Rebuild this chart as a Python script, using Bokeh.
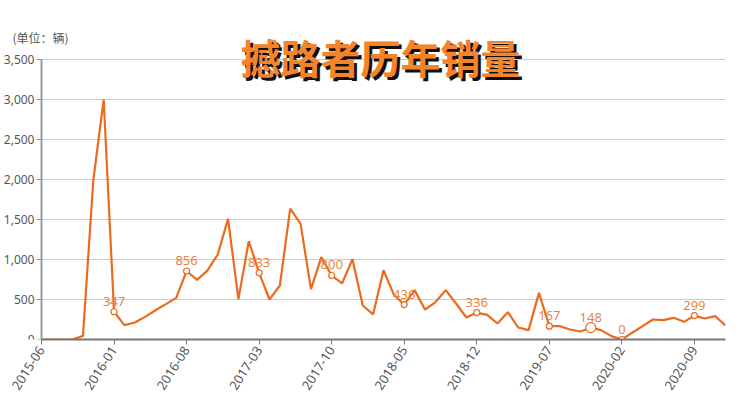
import pandas as pd
from bokeh.core.properties import value
from bokeh.plotting import figure
from bokeh.models import ColumnDataSource, Range1d, FixedTicker, NumeralTickFormatter, Label, LabelSet
from bokeh.embed import file_html
from bokeh.resources import INLINE

# monthly sales, 2015-06 .. 2020-12
months = [p.strftime("%Y-%m") for p in pd.period_range("2015-06", "2020-12", freq="M")]
sales = [0, 0, 0, 0, 45, 1990, 3000, 347, 180, 212, 283, 365, 442, 521, 856, 745,
         860, 1060, 1508, 505, 1228, 833, 500, 675, 1635, 1446, 630, 1030, 800, 700,
         1005, 425, 315, 865, 560, 436, 617, 375, 465, 617, 450, 275, 336, 308, 200,
         342, 150, 117, 583, 167, 167, 125, 100, 148, 117, 42, 0, 85, 167, 250, 242,
         271, 221, 299, 262, 292, 175]
marked = ["2016-01", "2016-08", "2017-03", "2017-10", "2018-05", "2018-12",
          "2019-07", "2019-11", "2020-02", "2020-09"]
highlight = "2019-11"
tick_months = months[::7]
y_ticks = [0, 500, 1000, 1500, 2000, 2500, 3000, 3500]

CJK = "Noto Sans CJK SC"
NUM = "Noto Sans"
LINE = "#EC6A1E"
LABEL_C = "#E8853F"

n = len(months)
idx = list(range(n))
src = ColumnDataSource(data=dict(x=idx, y=sales, m=months))
mk = [months.index(m) for m in marked]
msrc = ColumnDataSource(data=dict(
    x=mk, y=[sales[i] for i in mk], txt=[str(sales[i]) for i in mk],
    r=[10 if months[i] == highlight else 6 for i in mk]))

# frame runs to the top/left canvas edge so title and unit text are not clipped
p = figure(width=748, height=397, output_backend="svg", toolbar_location=None,
           x_range=Range1d(-3.956, n - 1), y_range=Range1d(0, 4237),
           min_border_left=0, min_border_right=23, min_border_top=0, min_border_bottom=58)
p.outline_line_color = None
p.background_fill_color = "white"

# horizontal grid lines between the axes only
p.xgrid.grid_line_color = None
p.ygrid.grid_line_color = None
p.segment(x0=0, x1=n - 1, y0=y_ticks, y1=y_ticks, line_color="#CCCCCC", line_width=1)

p.line("x", "y", source=src, line_color=LINE, line_width=2.2)
p.scatter("x", "y", source=msrc, size="r", marker="circle", fill_color="white",
          line_color=LINE, line_width=1.2)
labels = LabelSet(x="x", y="y", text="txt", source=msrc, text_align="center",
                  text_baseline="bottom", y_offset=6, text_font=value(NUM),
                  text_font_size="13px", text_color=LABEL_C)
p.add_layout(labels)

# y axis pinned at the first month
p.yaxis.fixed_location = 0
p.yaxis.bounds = (0, 3500)
p.yaxis.ticker = FixedTicker(ticks=y_ticks)
p.yaxis.formatter = NumeralTickFormatter(format="0,0")
p.yaxis.axis_line_color = "#999999"
p.yaxis.axis_line_width = 2
p.yaxis.major_tick_line_color = "#999999"
p.yaxis.major_tick_out = 5
p.yaxis.major_tick_in = 0
p.yaxis.minor_tick_line_color = None
p.yaxis.major_label_text_font = NUM
p.yaxis.major_label_text_font_size = "12px"
p.yaxis.major_label_text_color = "#555555"
p.yaxis.major_label_standoff = 2

p.xaxis.bounds = (0, n - 1)
p.xaxis.ticker = FixedTicker(ticks=[months.index(t) for t in tick_months])
p.xaxis.major_label_overrides = {months.index(t): t for t in tick_months}
p.xaxis.major_label_orientation = 1.0
p.xaxis.axis_line_color = "#777777"
p.xaxis.axis_line_width = 2
p.xaxis.major_tick_line_color = "#777777"
p.xaxis.major_tick_out = 5
p.xaxis.major_tick_in = 0
p.xaxis.minor_tick_line_color = None
p.xaxis.major_label_text_font = NUM
p.xaxis.major_label_text_font_size = "13px"
p.xaxis.major_label_text_color = "#555555"
p.xaxis.major_label_standoff = 3

# title with drop shadow
for dx, dy, col in [(3, -3, "#111111"), (0, 0, "#F4842A")]:
    p.add_layout(Label(x=32.7, y=3525, text="撼路者历年销量", x_offset=dx, y_offset=dy,
                       text_align="center", text_baseline="middle", text_font=CJK,
                       text_font_style="bold", text_font_size="40px", text_color=col))

p.add_layout(Label(x=-2.8, y=3775, text="(单位：辆)", text_align="left", text_baseline="middle",
                   text_font=CJK, text_font_size="12px", text_color="#555555"))

open("out.html", "w").write(file_html(p, INLINE))
